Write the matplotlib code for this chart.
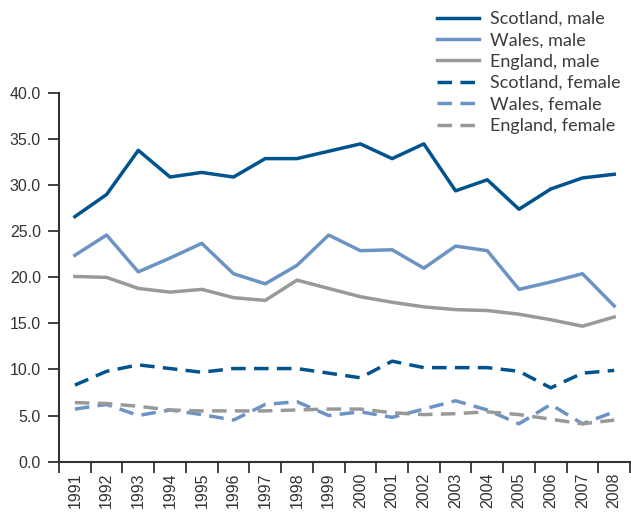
import matplotlib
matplotlib.use("Agg")
import matplotlib.pyplot as plt
import numpy as np

years = [str(y) for y in range(1991, 2009)]
scotland_male = [26.6, 29.0, 33.8, 30.9, 31.4, 30.9, 32.9, 32.9, 33.7, 34.5, 32.9, 34.5, 29.4, 30.6, 27.4, 29.6, 30.8, 31.2]
wales_male = [22.4, 24.6, 20.6, 22.1, 23.7, 20.4, 19.3, 21.3, 24.6, 22.9, 23.0, 21.0, 23.4, 22.9, 18.7, 19.5, 20.4, 16.9]
england_male = [20.1, 20.0, 18.8, 18.4, 18.7, 17.8, 17.5, 19.7, 18.8, 17.9, 17.3, 16.8, 16.5, 16.4, 16.0, 15.4, 14.7, 15.7]
scotland_female = [8.3, 9.8, 10.5, 10.1, 9.7, 10.1, 10.1, 10.1, 9.6, 9.1, 10.9, 10.2, 10.2, 10.2, 9.8, 8.0, 9.6, 9.9]
wales_female = [5.7, 6.2, 5.0, 5.6, 5.1, 4.5, 6.2, 6.5, 5.0, 5.4, 4.8, 5.7, 6.6, 5.6, 4.1, 6.2, 4.1, 5.4]
england_female = [6.4, 6.3, 6.0, 5.6, 5.5, 5.5, 5.5, 5.6, 5.7, 5.7, 5.3, 5.1, 5.2, 5.4, 5.1, 4.6, 4.1, 4.5]

dark = "#00538c"
light = "#6b94c4"
gray = "#999999"
text_c = "#333333"

plt.rcParams['font.family'] = ['Liberation Sans', 'DejaVu Sans']

fig = plt.figure(figsize=(6.31, 5.18), dpi=100)
ax = fig.add_axes([0.0935, 0.109, 0.905, 0.711])

x = np.arange(len(years))
lw = 2.5
dash = (4.2, 2.4)
ax.plot(x, scotland_male, color=dark, lw=lw, label="Scotland, male")
ax.plot(x, wales_male, color=light, lw=lw, label="Wales, male")
ax.plot(x, england_male, color=gray, lw=lw, label="England, male")
ax.plot(x, scotland_female, color=dark, lw=lw, ls=(0, dash), label="Scotland, female")
ax.plot(x, wales_female, color=light, lw=lw, ls=(0, dash), label="Wales, female")
ax.plot(x, england_female, color=gray, lw=lw, ls=(0, dash), label="England, female")

ax.set_xlim(-0.5, len(years) - 0.5)
ax.set_ylim(0, 40)
ax.set_yticks(np.arange(0, 40.1, 5))
ax.set_yticklabels([f"{v:.1f}" for v in np.arange(0, 40.1, 5)])
ax.set_xticks(np.arange(-0.5, len(years), 1.0))
ax.set_xticklabels([])
ax.set_xticks(x, minor=True)
ax.set_xticklabels(years, minor=True, rotation=90)
ax.tick_params(axis='x', which='major', length=8, width=1.3, color=text_c, direction='out')
ax.tick_params(axis='x', which='minor', length=0, pad=8, labelsize=11.5, labelcolor=text_c)
ax.tick_params(axis='y', length=8, width=1.3, color=text_c, direction='out', pad=5,
               labelsize=11.5, labelcolor=text_c)

for s in ['top', 'right']:
    ax.spines[s].set_visible(False)
for s in ['left', 'bottom']:
    ax.spines[s].set_color(text_c)
    ax.spines[s].set_linewidth(1.5)

leg = fig.legend(loc='upper right', bbox_to_anchor=(1.0, 1.0), frameon=False,
                 prop={'family': ['Lato', 'DejaVu Sans'], 'size': 13},
                 handlelength=2.3, handletextpad=0.6, labelspacing=0.3,
                 borderaxespad=0.2)
for t in leg.get_texts():
    t.set_color("#3c3c3c")

fig.savefig("out.png", dpi=100)
